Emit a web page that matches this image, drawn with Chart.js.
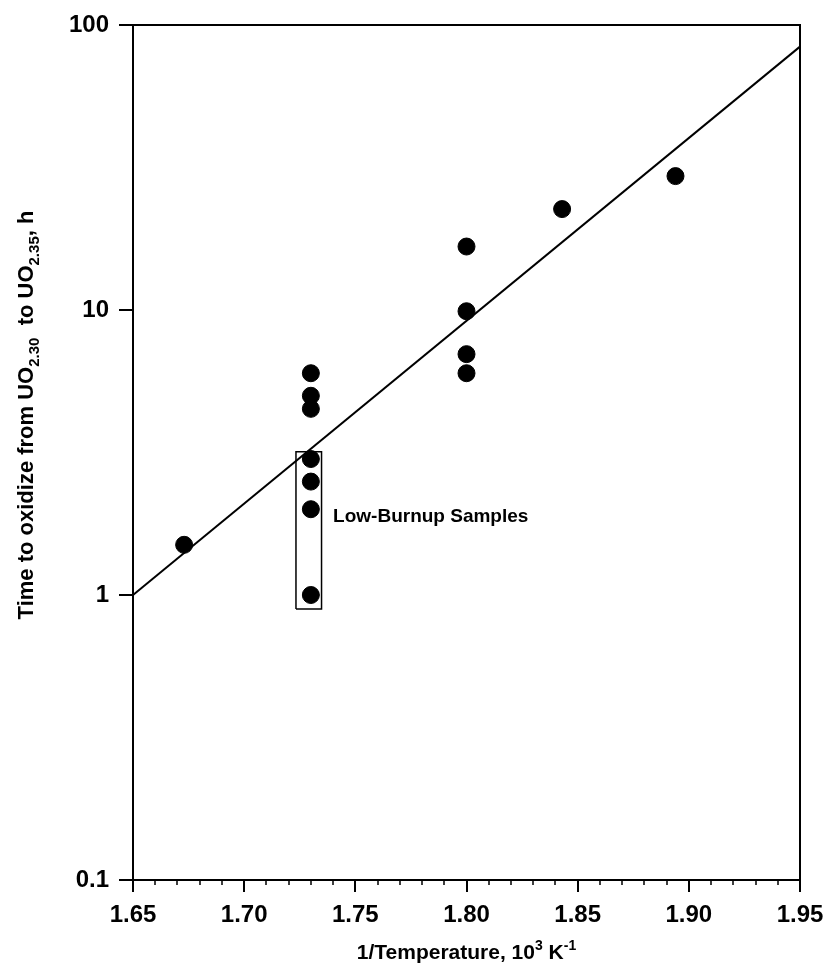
<!DOCTYPE html>
<html>
<head>
<meta charset="utf-8">
<script src="https://cdn.jsdelivr.net/npm/chart.js@4"></script>
<style>
  html, body { margin:0; padding:0; background:#fff; }
  #wrap { width:828px; height:970px; position:relative; }
</style>
</head>
<body>
<div id="wrap"><canvas id="c"></canvas></div>
<script>
// measured points: 1/T (10^3 K^-1) vs oxidation time (h)
const invTemp = [1.673, 1.730, 1.730, 1.730, 1.730, 1.730, 1.730, 1.730, 1.800, 1.800, 1.800, 1.800, 1.843, 1.894];
const hours   = [1.5,   6.0,   5.0,   4.5,   3.0,   2.5,   2.0,   1.0,   16.7,  9.9,   7.0,   6.0,   22.6,  29.5];

// fitted line
const fitX = [1.65, 1.95];
const fitY = [1.0, 84];

// box around the low-burnup samples
const boxX = [1.7233, 1.7348, 1.7348, 1.7233, 1.7233];
const boxY = [0.893, 0.893, 3.18, 3.18, 0.893];
const boxLabel = 'Low-Burnup Samples';
const boxLabelPos = [1.740, 1.88];

const xTicks = [1.65, 1.70, 1.75, 1.80, 1.85, 1.90, 1.95];
const yTicks = [0.1, 1, 10, 100];

const FONT = '"Liberation Sans", Arial, sans-serif';

const toXY = (xs, ys) => xs.map((v,i)=>({x:v, y:ys[i]}));

function drawRich(ctx, parts, x, y) {
  let total = 0;
  parts.forEach(p => { ctx.font = `bold ${p.size}px ${FONT}`; p.w = ctx.measureText(p.t).width; total += p.w; });
  let cx = x - total/2;
  parts.forEach(p => {
    ctx.font = `bold ${p.size}px ${FONT}`;
    ctx.fillText(p.t, cx, y + (p.dy||0));
    cx += p.w;
  });
}

const extras = {
  id:'extras',
  afterDraw(chart) {
    const {ctx, chartArea:a, scales:{x, y}} = chart;
    ctx.save();
    ctx.strokeStyle = '#000'; ctx.fillStyle = '#000';
    // top + right frame
    ctx.lineWidth = 2;
    ctx.beginPath();
    ctx.moveTo(a.left, a.top); ctx.lineTo(a.right, a.top); ctx.lineTo(a.right, a.bottom);
    ctx.stroke();
    // minor x ticks every 0.01
    ctx.lineWidth = 1.5;
    ctx.beginPath();
    for (let i = 1; i < 30; i++) {
      if (i % 5 === 0) continue;
      const px = Math.round(x.getPixelForValue(1.65 + i*0.01));
      ctx.moveTo(px, a.bottom); ctx.lineTo(px, a.bottom + 5);
    }
    ctx.stroke();

    // annotation text
    ctx.textBaseline = 'middle';
    ctx.textAlign = 'left';
    ctx.font = `bold 19px ${FONT}`;
    ctx.fillText(boxLabel, x.getPixelForValue(boxLabelPos[0]), y.getPixelForValue(boxLabelPos[1]));

    // x title with superscripts
    ctx.textBaseline = 'alphabetic';
    drawRich(ctx, [
      {t:'1/Temperature, 10', size:21},
      {t:'3', size:14, dy:-9},
      {t:' K', size:21},
      {t:'-1', size:14, dy:-9}
    ], (a.left + a.right)/2, 959);

    // y title with subscripts
    ctx.translate(33, 415);
    ctx.rotate(-Math.PI/2);
    drawRich(ctx, [
      {t:'Time to oxidize from UO', size:22},
      {t:'2.30', size:15, dy:6},
      {t:'  to UO', size:22},
      {t:'2.35', size:15, dy:6},
      {t:', h', size:22}
    ], 0, 0);
    ctx.restore();
  }
};

new Chart(document.getElementById('c'), {
  type:'scatter',
  data:{
    datasets:[
      { data: toXY(boxX, boxY), showLine:true, borderColor:'#000', borderWidth:1.5, pointRadius:0, fill:false, order:3 },
      { data: toXY(fitX, fitY), showLine:true, borderColor:'#000', borderWidth:2, pointRadius:0, fill:false, order:2 },
      { data: toXY(invTemp, hours), backgroundColor:'#000', borderColor:'#000', pointRadius:8.5, pointHoverRadius:8.5, order:1 }
    ]
  },
  options:{
    responsive:true, maintainAspectRatio:false, animation:false,
    layout:{ padding:{ top:25, right:28, left:0, bottom:0 } },
    plugins:{ legend:{display:false}, tooltip:{enabled:false} },
    scales:{
      x:{
        type:'linear', min:1.65, max:1.95,
        afterBuildTicks: s => { s.ticks = xTicks.map(v=>({value:v})); },
        afterFit: s => { s.height = 90; s.paddingLeft = 0; s.paddingRight = 0; },
        ticks:{ callback: v => v.toFixed(2), color:'#000', font:{family:FONT, size:24, weight:'bold'}, padding:9, maxRotation:0, autoSkip:false },
        grid:{ drawOnChartArea:false, tickLength:12, color:'#000', lineWidth:2 },
        border:{ color:'#000', width:2 }
      },
      y:{
        type:'logarithmic', min:0.1, max:100,
        afterBuildTicks: s => { s.ticks = yTicks.map(v=>({value:v})); },
        afterFit: s => { s.width = 133; s.paddingTop = 0; s.paddingBottom = 0; },
        ticks:{ callback: v => String(v), color:'#000', font:{family:FONT, size:24, weight:'bold'}, padding:10, autoSkip:false },
        grid:{ drawOnChartArea:false, tickLength:14, color:'#000', lineWidth:2 },
        border:{ color:'#000', width:2 }
      }
    }
  },
  plugins:[extras]
});
</script>
</body>
</html>
